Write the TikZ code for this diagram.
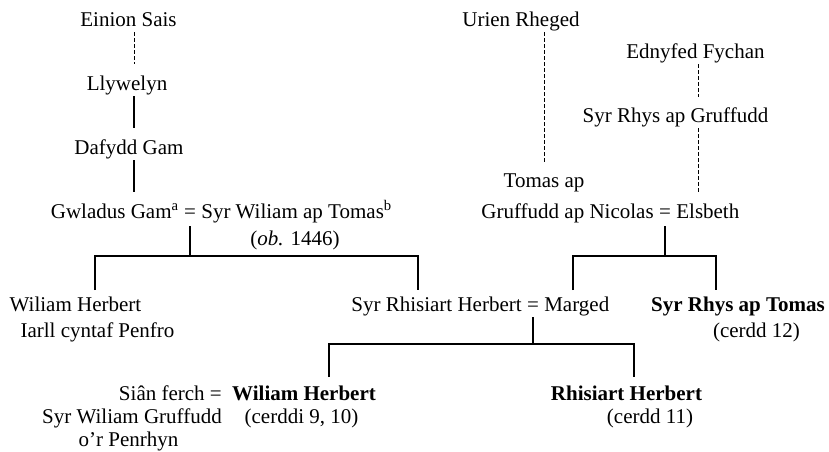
\documentclass[tikz,border=0pt]{standalone}
\usepackage{fontspec}
\setmainfont{Liberation Serif}

\begin{document}
\begin{tikzpicture}[x=1pt, y=-1pt]
  \tikzstyle{person} = [inner xsep=0pt, inner ysep=1pt, text height=15pt, text depth=5pt, anchor=base, font={\fontsize{21}{24}\selectfont}]
  \tikzstyle{poet} = [person, font={\fontsize{21}{24}\selectfont\bfseries}]

  \tikzstyle{descent} = [black, line width=1.8pt];
  \tikzstyle{lineage} = [black, line width=1pt, dash pattern=on 4pt off 2pt];
  \tikzstyle{generation} = [descent, shorten >=10pt];

  \useasboundingbox (0,0) rectangle (829,451);

  \node[person] (einion)   at (128.5,26) {Einion Sais};
  \node[person] (llywelyn) at (127,90)   {Llywelyn};
  \node[person] (dafydd)   at (129,154)  {Dafydd Gam};
  \node[person] (eqA)      at (190,218)  {=};
  \node[person, anchor=base east] (gwladus)   at ([xshift=-5pt]eqA.base west) {Gwladus Gam\textsuperscript{a}};
  \node[person, anchor=base west] (syrWiliam) at ([xshift=5pt]eqA.base east)  {Syr Wiliam ap Tomas\textsuperscript{b}};
  \node[person] (obit)     at (295,245)  {(\textit{ob.} 1446)};

  \node[person] (wiliamH)     at (75.5,311) {Wiliam Herbert};
  \node[person] (wiliamHnote) at (97.5,337) {Iarll cyntaf Penfro};
  \node[person] (eqB)         at (533,311)  {=};
  \node[person, anchor=base east] (rhisiart) at ([xshift=-5pt]eqB.base west) {Syr Rhisiart Herbert};
  \node[person, anchor=base west] (marged)   at ([xshift=5pt]eqB.base east)  {Marged};
  \node[poet]   (rhysT)       at (738,311)   {Syr Rhys ap Tomas};
  \node[person] (rhysTnote)   at (756.5,337) {(cerdd 12)};

  \node[person, anchor=base east] (sian)  at (222,400) {Siân ferch =};
  \node[person, anchor=base east] (sianB) at (222,423) {Syr Wiliam Gruffudd};
  \node[person] (sianC)       at (128.5,446) {o’r Penrhyn};
  \node[poet, anchor=base west] (wiliamB) at (232,400) {Wiliam Herbert};
  \node[person] (wiliamBnote) at (301.5,423) {(cerddi 9, 10)};
  \node[poet]   (rhisiartB)   at (626.5,400) {Rhisiart Herbert};
  \node[person] (rhisiartBnote) at (650,423) {(cerdd 11)};

  \node[person] (urien)    at (521,26)    {Urien Rheged};
  \node[person] (ednyfed)  at (695.5,58)  {Ednyfed Fychan};
  \node[person] (rhysG)    at (675.5,122) {Syr Rhys ap Gruffudd};
  \node[person] (tomas)    at (544,187)   {Tomas ap};
  \node[person] (eqC)      at (665,218)   {=};
  \node[person, anchor=base east] (gruffudd) at ([xshift=-5pt]eqC.base west) {Gruffudd ap Nicolas};
  \node[person, anchor=base west] (elsbeth)  at ([xshift=5pt]eqC.base east)  {Elsbeth};

  \coordinate (colA) at (134,0);
  \coordinate (colC) at (698,0);

  \coordinate (forkA) at (190,256);
  \coordinate (kidA1) at (95,290);
  \coordinate (kidA2) at (418,290);
  \coordinate (forkB) at (533,344);
  \coordinate (kidB1) at (329,377);
  \coordinate (kidB2) at (634,377);
  \coordinate (forkC) at (665,256);
  \coordinate (kidC1) at (573,290);
  \coordinate (kidC2) at (716,290);

  \draw[lineage, shorten >=10pt] (einion.south -| colA) -- (llywelyn.north -| colA);
  \draw[generation] (llywelyn.south -| colA) -- (dafydd.north -| colA);
  \draw[generation] (dafydd.south -| colA) -- (gwladus.north -| colA);

  \draw[lineage, shorten >=9pt] (urien.south -| tomas.north) -- (tomas.north);
  \draw[lineage, shorten >=9pt] (ednyfed.south -| colC) -- (rhysG.north -| colC);
  \draw[lineage, shorten >=9pt] (rhysG.south -| colC) -- (elsbeth.north -| colC);

  \draw[descent, shorten <=2pt] (eqA) -- (forkA);
  \draw[descent] (kidA1) |- (forkA) -| (kidA2);
  \draw[descent] (eqB) -- (forkB);
  \draw[descent] (kidB1) |- (forkB) -| (kidB2);
  \draw[descent, shorten <=2pt] (eqC) -- (forkC);
  \draw[descent] (kidC1) |- (forkC) -| (kidC2);
\end{tikzpicture}
\end{document}
